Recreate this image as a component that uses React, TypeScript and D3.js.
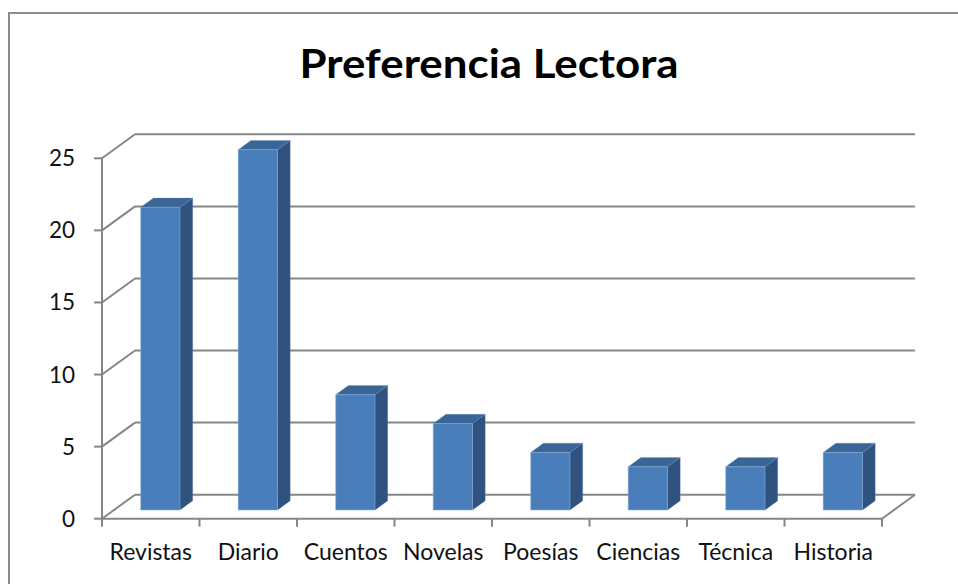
import React from "react";
import * as d3 from "d3";

const categories = ["Revistas", "Diario", "Cuentos", "Novelas", "Poesías", "Ciencias", "Técnica", "Historia"];
const values = [21, 25, 8, 6, 4, 3, 3, 4];
const yTicks = [0, 5, 10, 15, 20, 25];
const title = "Preferencia Lectora";

const W = 958;
const H = 584;
const FONT = "Lato, Carlito, 'Open Sans', sans-serif";

// plot geometry
const X0 = 102;
const X1 = 882;
const Y0 = 518.7;
const Y1 = 158.3;
const DX = 33; // depth offset x
const DY = -24; // depth offset y
const Z0 = 0.36; // bar front depth fraction
const Z1 = 0.745; // bar back depth fraction
const BAR_OFF = 0.275; // bar start within band (front plane)
const BAR_W = 0.403; // bar width within band

const GRID = "#868686";
const FRONT = "#4A7EBB";
const SIDE = "#30527E";
const TOP = "#3A6597";

export default function App() {
  const x = d3.scaleBand<string>().domain(categories).range([X0, X1]).padding(0);
  const y = d3.scaleLinear().domain([0, 25]).range([Y0, Y1]);
  const bw = x.bandwidth();

  const pts = (arr: [number, number][]) => arr.map((p) => p.join(",")).join(" ");

  return (
    <svg width={W} height={H} style={{ position: "absolute", left: 0, top: 0, background: "#fff" }}>
      {/* chart border */}
      <rect x={9} y={13} width={W + 10} height={H + 10} fill="#fff" stroke="#8c8c8c" strokeWidth={2} />
      <text
        x={489}
        y={78.3}
        textAnchor="middle"
        fontFamily={FONT}
        fontWeight={700}
        fontSize={41}
        fill="#000"
        textLength={379}
        lengthAdjust="spacingAndGlyphs"
      >
        {title}
      </text>

      {/* back wall gridlines and left wall diagonals */}
      {yTicks.map((t) => (
        <g key={t}>
          <line x1={X0 + DX} x2={X1 + DX} y1={y(t) + DY} y2={y(t) + DY} stroke={GRID} strokeWidth={2} />
          <line x1={X0} x2={X0 + DX} y1={y(t)} y2={y(t) + DY} stroke={GRID} strokeWidth={2} />
          <line x1={X0 - 8} x2={X0} y1={y(t)} y2={y(t)} stroke={GRID} strokeWidth={2} />
          <text
            x={75}
            y={y(t) + 8}
            textAnchor="end"
            fontFamily={FONT}
            fontSize={22.5}
            fill="#111"
          >
            {t}
          </text>
        </g>
      ))}
      {/* floor right edge */}
      <line x1={X1} x2={X1 + DX} y1={Y0} y2={Y0 + DY} stroke={GRID} strokeWidth={2} />
      {/* vertical axis */}
      <line x1={X0} x2={X0} y1={Y1} y2={Y0 + 8} stroke={GRID} strokeWidth={2} />
      {/* floor front line */}
      <line x1={X0} x2={X1} y1={Y0} y2={Y0} stroke={GRID} strokeWidth={2} />
      {/* category ticks */}
      {categories.map((c) => (
        <line key={c} x1={x(c)! + bw} x2={x(c)! + bw} y1={Y0} y2={Y0 + 8} stroke={GRID} strokeWidth={2} />
      ))}

      {/* bars */}
      {categories.map((c, i) => {
        const v = values[i];
        const lx = x(c)! + bw * BAR_OFF;
        const rx = lx + bw * BAR_W;
        const by = y(0);
        const ty = y(v);
        const fx = DX * Z0;
        const fy = DY * Z0;
        const bx = DX * Z1;
        const byo = DY * Z1;
        const front: [number, number][] = [
          [lx + fx, ty + fy],
          [rx + fx, ty + fy],
          [rx + fx, by + fy],
          [lx + fx, by + fy],
        ];
        const side: [number, number][] = [
          [rx + fx, ty + fy],
          [rx + bx, ty + byo],
          [rx + bx, by + byo],
          [rx + fx, by + fy],
        ];
        const top: [number, number][] = [
          [lx + fx, ty + fy],
          [lx + bx, ty + byo],
          [rx + bx, ty + byo],
          [rx + fx, ty + fy],
        ];
        return (
          <g key={c}>
            <polygon points={pts(side)} fill={SIDE} stroke="#5a7fae" strokeWidth={0.6} strokeOpacity={0.5} />
            <polygon points={pts(top)} fill={TOP} stroke="#6b8fbf" strokeWidth={0.6} strokeOpacity={0.5} />
            <polygon points={pts(front)} fill={FRONT} stroke="#8eb0dc" strokeWidth={0.8} strokeOpacity={0.6} />
          </g>
        );
      })}

      {/* category labels */}
      {categories.map((c) => (
        <text
          key={c}
          x={x(c)! + bw / 2}
          y={560}
          textAnchor="middle"
          fontFamily={FONT}
          fontSize={23}
          fill="#111"
        >
          {c}
        </text>
      ))}
    </svg>
  );
}
